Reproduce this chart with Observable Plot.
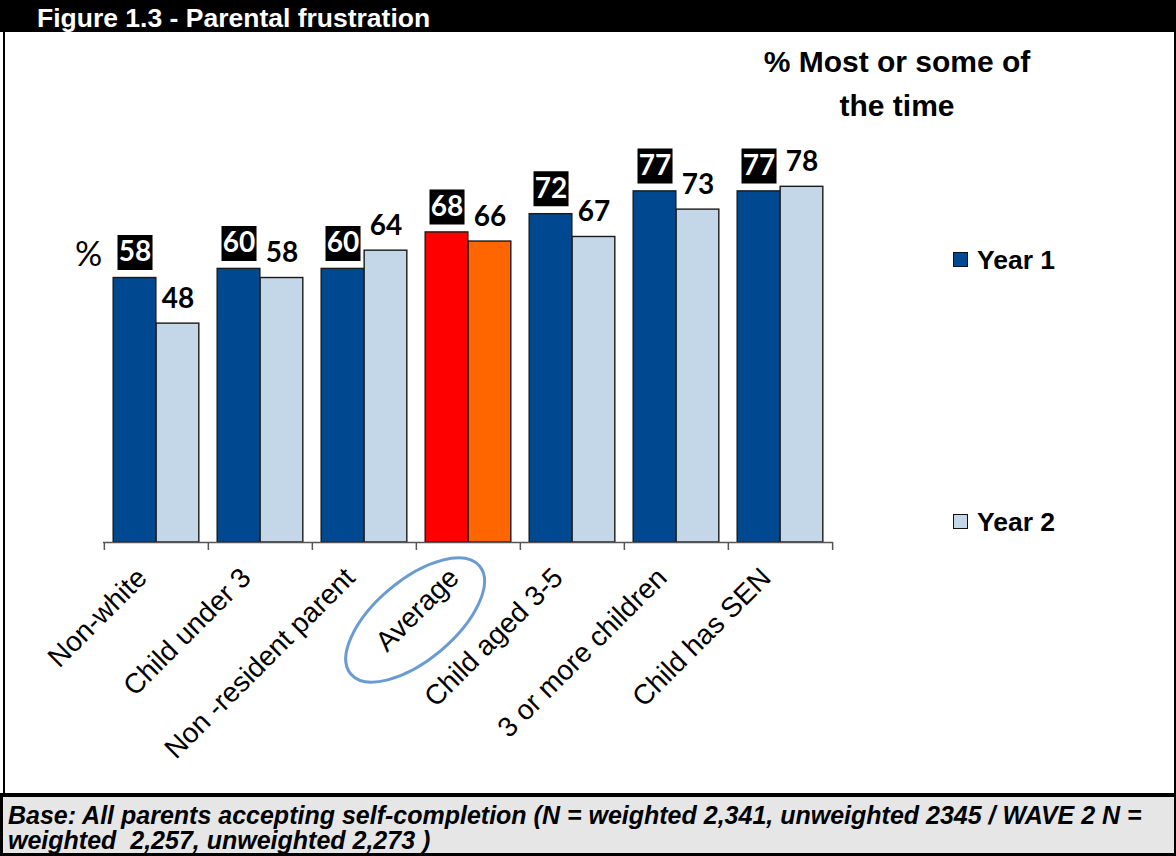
<!DOCTYPE html>
<html>
<head>
<meta charset="utf-8">
<script src="https://cdn.jsdelivr.net/npm/d3@7"></script>
<script src="https://cdn.jsdelivr.net/npm/@observablehq/plot@0.6"></script>
<style>
  html, body { margin: 0; padding: 0; background: #fff; }
  #wrap { position: relative; width: 1176px; height: 856px; overflow: hidden; background: #fff; font-family: "Liberation Sans", Arial, sans-serif; }
  #titlebar { position: absolute; left: 0; top: 0; width: 1176px; height: 32px; background: #000; overflow: hidden; }
  #titlebar span { position: absolute; left: 37px; top: 3px; color: #fff; font-weight: bold; font-size: 26.5px; line-height: normal; white-space: nowrap; }
  #chart { position: absolute; left: 0; top: 32px; }
  .vline { position: absolute; background: #000; }
  #subhead { position: absolute; left: 697px; top: 40px; width: 400px; text-align: center; font-weight: bold; font-size: 30px; line-height: 44px; color: #000; }
  .leg { position: absolute; font-weight: bold; font-size: 26.5px; line-height: normal; color: #000; white-space: nowrap; }
  .sw { position: absolute; width: 13px; height: 13px; border: 1.5px solid #111; }
  #footer { position: absolute; left: 0; top: 793px; width: 1176px; height: 63px; box-sizing: border-box; background: #e6e6e6; border-top: 4px solid #000; border-left: 3px solid #000; border-right: 2px solid #000; border-bottom: 3px solid #000; overflow: hidden; }
  #footer div { position: absolute; left: 5px; top: 6px; font-style: italic; font-weight: bold; font-size: 25px; line-height: 25px; color: #000; white-space: pre; }
</style>
</head>
<body>
<div id="wrap">
  <div id="chart"></div>
  <div id="titlebar"><span id="title"></span></div>
  <div class="vline" style="left:3px; top:32px; width:2px; height:762px;"></div>
  <div class="vline" style="left:1174px; top:32px; width:2px; height:762px;"></div>
  <div id="subhead"></div>
  <div id="legend"></div>
  <div id="footer"><div id="base"></div></div>
</div>
<script>
// ---- Data ----
const titleText = "Figure 1.3 - Parental frustration";
const subheadLines = ["% Most or some of", "the time"];
const categories = ["Non-white", "Child under 3", "Non -resident parent", "Average", "Child aged 3-5", "3 or more children", "Child has SEN"];
const seriesNames = ["Year 1", "Year 2"];
const year1 = [58, 60, 60, 68, 72, 77, 77];
const year2 = [48, 58, 64, 66, 67, 73, 78];
const highlight = "Average";
const unitLabel = "%";
const baseLines = ["Base: All parents accepting self-completion (N = weighted 2,341, unweighted 2345 / WAVE 2 N =", "weighted  2,257, unweighted 2,273 )"];

// ---- Styles ----
const colors = {"Year 1": "#004990", "Year 2": "#c3d7e9"};
const highlightColors = {"Year 1": "#ff0000", "Year 2": "#ff6600"};

const rows1 = categories.map((c, i) => ({category: c, value: year1[i], series: seriesNames[0]}));
const rows2 = categories.map((c, i) => ({category: c, value: year2[i], series: seriesNames[1]}));

const W = 1176, H = 762, ML = 103, MR = 343, MT = 54, MB = 252;
const bw = (W - ML - MR) / categories.length;
const barW = bw * 0.412;
const gap = (bw - 2 * barW) / 2;
const off1 = gap + barW / 2 - bw / 2;      // centre of Year 1 bar relative to band centre
const off2 = gap + barW * 1.5 - bw / 2;    // centre of Year 2 bar relative to band centre
const fillFor = d => (d.category === highlight ? highlightColors : colors)[d.series];
const labelFont = "Lato, 'Open Sans', sans-serif";

const plot = Plot.plot({
  width: W, height: H,
  marginLeft: ML, marginRight: MR, marginTop: MT, marginBottom: MB,
  style: {background: "transparent", overflow: "visible", fontFamily: "'Liberation Sans', Arial, sans-serif"},
  x: {domain: categories, padding: 0, axis: null},
  y: {domain: [0, 100], axis: null},
  marks: [
    Plot.barY(rows1, {x: "category", y: "value", fill: fillFor, stroke: "#1a1a1a", strokeWidth: 1.4, insetLeft: gap, insetRight: bw - gap - barW}),
    Plot.barY(rows2, {x: "category", y: "value", fill: fillFor, stroke: "#1a1a1a", strokeWidth: 1.4, insetLeft: gap + barW, insetRight: gap}),
    Plot.ruleY([0], {stroke: "#555", strokeWidth: 1.5}),
    Plot.axisX({tickSize: 8, dx: -bw / 2, tickFormat: () => "", label: null, stroke: "#555", strokeWidth: 1.5}),
    Plot.axisX({ticks: [categories[categories.length - 1]], tickSize: 8, dx: bw / 2, tickFormat: () => "", label: null, stroke: "#555", strokeWidth: 1.5}),
    Plot.text(categories, {x: d => d, frameAnchor: "bottom", text: d => d, rotate: -45, textAnchor: "end", lineAnchor: "bottom", dx: -8, dy: 37, fontSize: 28, fill: "#000"}),
    // Year 1 labels on black boxes
    Plot.dot(rows1, {x: "category", y: "value", symbol: "square", r: 19.75, fill: "#000", stroke: null, dx: off1, dy: -25.5}),
    Plot.text(rows1, {x: "category", y: "value", text: d => String(d.value), fill: "#fff", fontSize: 28, fontWeight: "bold", fontFamily: labelFont, dx: off1, dy: -25.5}),
    // Year 2 labels
    Plot.text(rows2, {x: "category", y: "value", text: d => String(d.value), fill: "#000", fontSize: 28, fontWeight: "bold", fontFamily: labelFont, dx: off2, dy: -25}),
    Plot.text([unitLabel], {frameAnchor: "top-left", text: d => d, textAnchor: "middle", lineAnchor: "middle", dx: -15, dy: 169, fontSize: 34, fontFamily: labelFont, fill: "#000"})
  ]
});

// Ellipse annotation around the highlighted category label
const xs = plot.scale("x"), ys = plot.scale("y");
const cx = xs.apply(highlight) + bw / 2 - 53;
const cy = ys.apply(0) + 78;
d3.select(plot).append("ellipse")
  .attr("cx", cx).attr("cy", cy).attr("rx", 84).attr("ry", 40)
  .attr("transform", `rotate(-40 ${cx} ${cy})`)
  .attr("fill", "none").attr("stroke", "#6a9bd3").attr("stroke-width", 3);

document.getElementById("chart").appendChild(plot);
document.getElementById("title").textContent = titleText;
document.getElementById("subhead").innerHTML = subheadLines.map(s => `<div>${s}</div>`).join("");
document.getElementById("base").textContent = baseLines.join("\n");

// Legend
const legendTops = [252, 514];
const legend = document.getElementById("legend");
seriesNames.forEach((s, i) => {
  const sw = document.createElement("div");
  sw.className = "sw";
  sw.style.left = "953px"; sw.style.top = legendTops[i] + "px";
  sw.style.background = colors[s];
  legend.appendChild(sw);
  const t = document.createElement("div");
  t.className = "leg";
  t.style.left = "977px"; t.style.top = (legendTops[i] - 7) + "px";
  t.textContent = s;
  legend.appendChild(t);
});
</script>
</body>
</html>
